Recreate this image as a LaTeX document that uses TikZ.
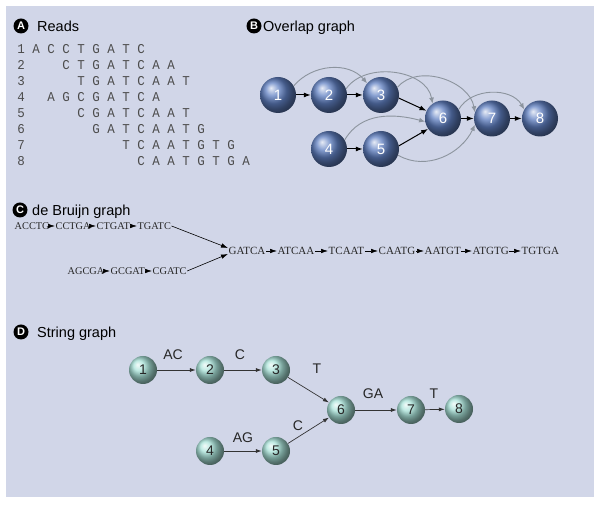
\documentclass[tikz,border=0pt]{standalone}
\usepackage{fontspec}
\setmainfont{Liberation Sans}
\newfontfamily\monof{Liberation Mono}
\newfontfamily\seriff{Liberation Serif}
\usetikzlibrary{arrows.meta}
\definecolor{panel}{RGB}{209,214,232}
\definecolor{bluesph}{RGB}{96,128,194}
\definecolor{tealsph}{RGB}{168,226,216}
\definecolor{arcgray}{RGB}{140,148,158}
\begin{document}
\begin{tikzpicture}[x=1pt,y=1pt,
  sec/.style={circle,fill=black,text=white,inner sep=0pt,minimum size=15pt,font=\fontsize{11}{11}\selectfont\bfseries},
  head/.style={anchor=base west,inner sep=0pt,font=\fontsize{14.5}{16}\selectfont},
  readrow/.style={anchor=base west,inner sep=0pt,text=black!70,xscale=0.926,transform shape,font=\monof\fontsize{13.5}{14}\selectfont},
  bnode/.style={circle,inner sep=0pt,minimum size=36pt,shading=ball,ball color=bluesph,text=white,font=\fontsize{15}{15}\selectfont},
  barrow/.style={-{Latex[length=7pt,width=5pt]},line width=1pt,black},
  garc/.style={-{Latex[length=6pt,width=5pt]},line width=0.9pt,arcgray},
  word/.style={anchor=west,inner sep=0.5pt,text=black!85,font=\seriff\fontsize{10.3}{10}\selectfont},
  wordb/.style={word,font=\seriff\fontsize{11}{11}\selectfont},
  carrow/.style={-{Latex[length=7pt,width=4.5pt]},line width=0.6pt,black},
  dnode/.style={circle,inner sep=0pt,minimum size=28pt,shading=ball,ball color=tealsph,text=black!85,font=\fontsize{14}{14}\selectfont},
  darrow/.style={-{Latex[length=6pt,width=4pt]},line width=0.7pt,black!80},
  elab/.style={inner sep=0pt,font=\fontsize{14}{14}\selectfont,text=black!85}
]
\useasboundingbox (0,0) rectangle (600,505);
\fill[white] (0,0) rectangle (600,505);
\fill[panel] (6,8) rectangle (594,499);

% ---------- A: Reads ----------
\node[sec] (la) at (21,479) {A};
\node[head] (ta) at (37,473.8) {Reads};
\node[readrow] (r1) at (17.25,451) {1~A~C~C~T~G~A~T~C};
\node[readrow] (r2) at (17.25,435) {2~~~~~C~T~G~A~T~C~A~A};
\node[readrow] (r3) at (17.25,419) {3~~~~~~~T~G~A~T~C~A~A~T};
\node[readrow] (r4) at (17.25,403) {4~~~A~G~C~G~A~T~C~A};
\node[readrow] (r5) at (17.25,387) {5~~~~~~~C~G~A~T~C~A~A~T};
\node[readrow] (r6) at (17.25,371) {6~~~~~~~~~G~A~T~C~A~A~T~G};
\node[readrow] (r7) at (17.25,355) {7~~~~~~~~~~~~~T~C~A~A~T~G~T~G};
\node[readrow] (r8) at (17.25,339) {8~~~~~~~~~~~~~~~C~A~A~T~G~T~G~A};

% ---------- B: Overlap graph ----------
\node[sec] (lb) at (254,479) {B};
\node[head] (tb) at (263,473.8) {Overlap graph};
\node[bnode] (b1) at (278,410) {1};
\node[bnode] (b2) at (329,410) {2};
\node[bnode] (b3) at (381,410) {3};
\node[bnode] (b4) at (329,356) {4};
\node[bnode] (b5) at (381,356) {5};
\node[bnode] (b6) at (443,386.5) {6};
\node[bnode] (b7) at (492,386.5) {7};
\node[bnode] (b8) at (540,386.5) {8};
\draw[garc] (b1.30) to[out=50,in=130] (b3.140);
\draw[garc] (b2.20) to[out=55,in=100] (b6.125);
\draw[garc] (b3.25) to[out=50,in=100] (b7.160);
\draw[garc] (b4.30) to[out=60,in=165] (b6.190);
\draw[garc] (b5.-20) to[out=-30,in=-115] (b7.200);
\draw[garc] (b6.30) to[out=60,in=120] (b8.150);
\draw[barrow] (b1) -- (b2);
\draw[barrow] (b2) -- (b3);
\draw[barrow] (b3.-10) -- (b6.155);
\draw[barrow] (b4) -- (b5);
\draw[barrow] (b5.10) -- (b6.215);
\draw[barrow] (b6) -- (b7);
\draw[barrow] (b7) -- (b8);

% ---------- C: de Bruijn graph ----------
\node[sec] (lc) at (20,295) {C};
\node[head] (tc) at (32,289.8) {de Bruijn graph};
\node[word] (p1) at (14,279) {ACCTG};
\node[word] (p2) at (55,279) {CCTGA};
\node[word] (p3) at (96,279) {CTGAT};
\node[word] (p4) at (137,279) {TGATC};
\node[word] (q1) at (67,234) {AGCGA};
\node[word] (q2) at (110,234) {GCGAT};
\node[word] (q3) at (152,234) {CGATC};
\node[wordb] (m1) at (228,254) {GATCA};
\node[wordb] (m2) at (277,254) {ATCAA};
\node[wordb] (m3) at (328,254) {TCAAT};
\node[wordb] (m4) at (378,254) {CAATG};
\node[wordb] (m5) at (424,254) {AATGT};
\node[wordb] (m6) at (472,254) {ATGTG};
\node[wordb] (m7) at (521,254) {TGTGA};
\foreach \a/\b in {p1/p2,p2/p3,p3/p4,q1/q2,q2/q3,m1/m2,m2/m3,m3/m4,m4/m5,m5/m6,m6/m7}
  \draw[carrow] (\a.east) -- (\b.west);
\draw[carrow] (p4.east) -- ([yshift=3pt]m1.west);
\draw[carrow] (q3.east) -- ([yshift=-3pt]m1.west);

% ---------- D: String graph ----------
\node[sec] (ld) at (21,173) {D};
\node[head] (td) at (37,167.8) {String graph};
\node[dnode] (d1) at (143,135) {1};
\node[dnode] (d2) at (210,135) {2};
\node[dnode] (d3) at (276,135) {3};
\node[dnode] (d4) at (210,54) {4};
\node[dnode] (d5) at (276,54) {5};
\node[dnode] (d6) at (341,95) {6};
\node[dnode] (d7) at (411,95) {7};
\node[dnode] (d8) at (459,96) {8};
\draw[darrow] (d1) -- (d2);
\draw[darrow] (d2) -- (d3);
\draw[darrow] (d3) -- (d6);
\draw[darrow] (d4) -- (d5);
\draw[darrow] (d5) -- (d6);
\draw[darrow] (d6) -- (d7);
\draw[darrow] (d7) -- (d8);
\node[elab] (e12) at (173,150) {AC};
\node[elab] (e23) at (240,150) {C};
\node[elab] (e36) at (317,136) {T};
\node[elab] (e67) at (373,111) {GA};
\node[elab] (e78) at (434,111) {T};
\node[elab] (e45) at (243,67) {AG};
\node[elab] (e56) at (298,79) {C};
\end{tikzpicture}
\end{document}
